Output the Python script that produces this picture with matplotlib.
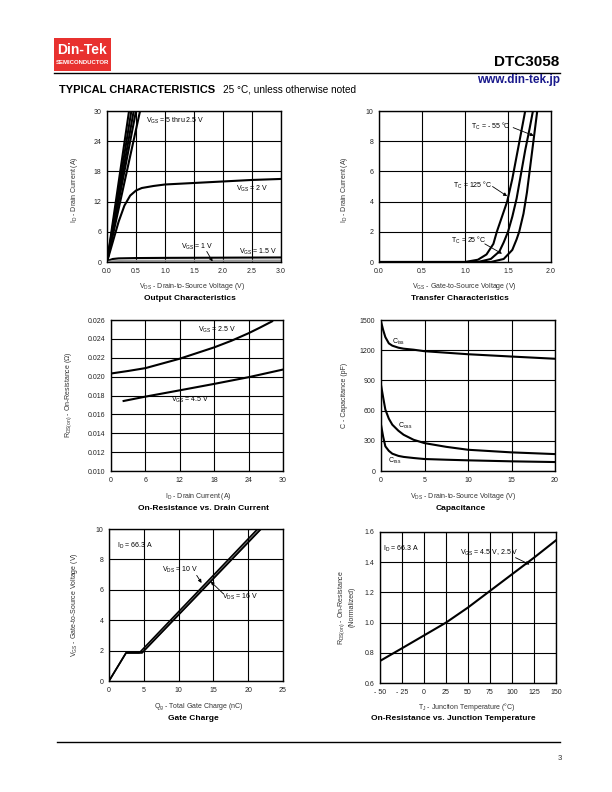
import numpy as np
import matplotlib.pyplot as plt
from matplotlib.patches import Rectangle

plt.rcParams['font.family'] = ['Liberation Sans', 'DejaVu Sans']
plt.rcParams['mathtext.fontset'] = 'custom'
plt.rcParams['mathtext.rm'] = 'Liberation Sans'

W, H = 612, 792

# ---------------- data ----------------
# output characteristics (ID vs VDS)
out_hi_vds = [[0, 0.38], [0, 0.42], [0, 0.46], [0, 0.50], [0, 0.57]]   # VGS 5 thru 2.5 V
out_hi_id = [0, 30]
out_2v_vds = [0, 0.05, 0.1, 0.2, 0.3, 0.4, 0.5, 0.6, 0.8, 1.0, 1.5, 2.0, 2.5, 3.0]
out_2v_id = [0, 2.0, 4.0, 8.0, 11.2, 13.2, 14.2, 14.7, 15.1, 15.4, 15.7, 16.0, 16.3, 16.5]
out_15v_vds = [0, 0.05, 0.1, 0.2, 0.5, 1.0, 2.0, 3.0]
out_15v_id = [0, 0.4, 0.6, 0.72, 0.78, 0.82, 0.86, 0.9]
out_1v_vds = [0, 0.1, 0.3, 1.0, 3.0]
out_1v_id = [0, 0.15, 0.22, 0.25, 0.28]

# transfer characteristics (ID vs VGS)
tr_125_vgs = [0, 1.0, 1.15, 1.25, 1.33, 1.37, 1.43, 1.49, 1.55, 1.60, 1.65, 1.70]
tr_125_id = [0, 0, 0.15, 0.5, 1.2, 2.0, 3.0, 4.0, 5.5, 7.0, 8.5, 10.0]
tr_25_vgs = [0, 1.15, 1.30, 1.40, 1.45, 1.50, 1.55, 1.60, 1.65, 1.70, 1.75, 1.79]
tr_25_id = [0, 0, 0.2, 0.7, 1.3, 2.0, 3.0, 4.2, 5.8, 7.4, 8.8, 10.0]
tr_m55_vgs = [0, 1.30, 1.45, 1.55, 1.60, 1.63, 1.68, 1.72, 1.76, 1.80, 1.84]
tr_m55_id = [0, 0, 0.2, 0.8, 1.5, 2.0, 3.2, 4.6, 6.4, 8.2, 10.0]

# on-resistance vs drain current
rds_id_25 = [0, 3, 6, 9, 12, 15, 18, 21, 24, 26, 28.1]
rds_25 = [0.02033, 0.0206, 0.0209, 0.0214, 0.0219, 0.0225, 0.0231, 0.0238, 0.0246, 0.0252, 0.02586]
rds_id_45 = [2.2, 6, 12, 18, 24, 30]
rds_45 = [0.01742, 0.01788, 0.01855, 0.01923, 0.01994, 0.02075]

# capacitance vs VDS
cap_vds = [0, 0.25, 0.5, 0.9, 1.3, 2.0, 2.6, 3.75, 5, 7.5, 10, 15, 20]
ciss = [1485, 1400, 1330, 1268, 1245, 1225, 1215, 1205, 1190, 1175, 1160, 1137, 1115]
coss = [855, 730, 610, 520, 460, 400, 360, 310, 277, 240, 211, 185, 168]
crss = [459, 340, 245, 200, 172, 150, 140, 129, 119, 112, 106, 96, 89]

# gate charge
qg_10 = [0, 2.45, 4.35, 21.35]
vgs_10 = [0, 1.85, 1.85, 10]
qg_16 = [0, 2.45, 4.75, 21.85]
vgs_16 = [0, 1.85, 1.85, 10]

# normalized on-resistance vs junction temperature
tj = [-50, -25, 0, 25, 50, 75, 100, 125, 150]
rds_norm = [0.746, 0.83, 0.915, 1.0, 1.10, 1.21, 1.32, 1.43, 1.545]

fig = plt.figure(figsize=(W / 100, H / 100), dpi=100)


def box(l, r, t, b):
    return [l / W, 1 - b / H, (r - l) / W, (b - t) / H]


def ftxt(x, y, s, **kw):
    kw.setdefault('ha', 'center')
    kw.setdefault('va', 'center')
    fig.text(x / W, 1 - y / H, s, **kw)


def style(ax, xlim, ylim, xt, yt, xfmt, yfmt):
    ax.set_xlim(xlim)
    ax.set_ylim(ylim)
    ax.set_xticks(xt)
    ax.set_yticks(yt)
    ax.set_xticklabels([xfmt(v) for v in xt])
    ax.set_yticklabels([yfmt(v) for v in yt])
    ax.grid(True, color='black', lw=0.8)
    ax.tick_params(length=0, labelsize=5, pad=4, colors='#222')
    for s in ax.spines.values():
        s.set_linewidth(1.0)


def arrow(ax, xy, xytext):
    ax.annotate('', xy=xy, xytext=xytext,
                arrowprops=dict(arrowstyle='-|>', lw=0.6, color='black', mutation_scale=5,
                                shrinkA=0, shrinkB=0))


LW = 1.5
lab = dict(fontsize=5, color='#333')
ttl = dict(fontsize=6, fontweight='bold')
ann = dict(fontsize=5, ha='center', va='center')

# ---------------- header ----------------
fig.add_artist(Rectangle((54 / W, 1 - 70.5 / H), 57 / W, 32.5 / H, transform=fig.transFigure,
                         facecolor='#e8312f', edgecolor='none'))
ftxt(82, 50, 'Din-Tek', fontsize=10, fontweight='bold', color='white')
ftxt(82, 63, 'SEMICONDUCTOR', fontsize=4.3, fontweight='bold', color='white')
fig.add_artist(plt.Line2D([54 / W, 560 / W], [1 - 72.5 / H, 1 - 72.5 / H], color='black', lw=1.0))
ftxt(559, 62, 'DTC3058', fontsize=11, fontweight='bold', ha='right')
ftxt(560, 80, 'www.din-tek.jp', fontsize=8.5, fontweight='bold', color='#1a1a8c', ha='right')
ftxt(59, 90, 'TYPICAL CHARACTERISTICS', fontsize=8, fontweight='bold', ha='left')
ftxt(223, 90, '25 °C, unless otherwise noted', fontsize=7.2, ha='left')

# ---------------- output characteristics ----------------
ax1 = fig.add_axes(box(107, 281, 111, 262))
for v in out_hi_vds:
    ax1.plot(v, out_hi_id, color='black', lw=LW)
ax1.plot(out_2v_vds, out_2v_id, color='black', lw=LW)
ax1.plot(out_15v_vds, out_15v_id, color='black', lw=LW)
ax1.plot(out_1v_vds, out_1v_id, color='#999', lw=LW)
style(ax1, (0, 3), (0, 30), np.arange(0, 3.01, 0.5), np.arange(0, 31, 6),
      lambda v: f'{v:.1f}', lambda v: f'{v:.0f}')
ax1.text(1.17, 28.1, r'$\mathregular{V_{GS}}$ = 5 thru 2.5 V', **ann)
ax1.text(2.5, 14.6, r'$\mathregular{V_{GS}}$ = 2 V', **ann)
ax1.text(1.55, 3.0, r'$\mathregular{V_{GS}}$ = 1 V', **ann)
ax1.text(2.6, 2.0, r'$\mathregular{V_{GS}}$ = 1.5 V', **ann)
arrow(ax1, (1.82, 0.1), (1.72, 2.1))
ftxt(192, 287, r'$\mathregular{V_{DS}}$ - Drain-to-Source Voltage (V)', **lab)
ftxt(190, 298, 'Output Characteristics', **ttl)
ftxt(75, 190, r'$\mathregular{I_D}$ - Drain Current (A)', rotation=90, **lab)

# ---------------- transfer characteristics ----------------
ax2 = fig.add_axes(box(379, 551, 111, 262))
ax2.plot(tr_125_vgs, tr_125_id, color='black', lw=LW)
ax2.plot(tr_25_vgs, tr_25_id, color='black', lw=LW)
ax2.plot(tr_m55_vgs, tr_m55_id, color='black', lw=LW)
style(ax2, (0, 2), (0, 10), np.arange(0, 2.01, 0.5), np.arange(0, 11, 2),
      lambda v: f'{v:.1f}', lambda v: f'{v:.0f}')
ax2.text(1.30, 9.0, r'$\mathregular{T_C}$ = - 55 °C', **ann)
arrow(ax2, (1.80, 8.36), (1.56, 8.9))
ax2.text(1.09, 5.1, r'$\mathregular{T_C}$ = 125 °C', **ann)
arrow(ax2, (1.49, 4.36), (1.32, 5.0))
ax2.text(1.04, 1.45, r'$\mathregular{T_C}$ = 25 °C', **ann)
arrow(ax2, (1.43, 0.55), (1.23, 1.2))
ftxt(464, 287, r'$\mathregular{V_{GS}}$ - Gate-to-Source Voltage (V)', **lab)
ftxt(460, 298, 'Transfer Characteristics', **ttl)
ftxt(345, 190, r'$\mathregular{I_D}$ - Drain Current (A)', rotation=90, **lab)

# ---------------- on-resistance vs drain current ----------------
ax3 = fig.add_axes(box(111, 283, 320, 471))
ax3.plot(rds_id_25, rds_25, color='black', lw=LW)
ax3.plot(rds_id_45, rds_45, color='black', lw=LW)
style(ax3, (0, 30), (0.010, 0.026), np.arange(0, 31, 6), np.arange(0.010, 0.02601, 0.002),
      lambda v: f'{v:.0f}', lambda v: f'{v:.3f}')
ax3.text(18.5, 0.02497, r'$\mathregular{V_{GS}}$ = 2.5 V', **ann)
ax3.text(13.8, 0.01752, r'$\mathregular{V_{GS}}$ = 4.5 V', **ann)
ftxt(198, 497, r'$\mathregular{I_D}$ - Drain Current (A)', **lab)
ftxt(204, 509, 'On-Resistance vs. Drain Current', **ttl)
ftxt(69, 395, r'$\mathregular{R_{DS(on)}}$ - On-Resistance (Ω)', rotation=90, **lab)

# ---------------- capacitance ----------------
ax4 = fig.add_axes(box(381, 555, 320, 471))
ax4.plot(cap_vds, ciss, color='black', lw=LW)
ax4.plot(cap_vds, coss, color='black', lw=LW)
ax4.plot(cap_vds, crss, color='black', lw=LW)
style(ax4, (0, 20), (0, 1500), np.arange(0, 21, 5), np.arange(0, 1501, 300),
      lambda v: f'{v:.0f}', lambda v: f'{v:.0f}')
ax4.text(2.0, 1285, r'$\mathregular{C_{iss}}$', **ann)
ax4.text(2.8, 450, r'$\mathregular{C_{oss}}$', **ann)
ax4.text(1.6, 96, r'$\mathregular{C_{rss}}$', **ann)
ftxt(463, 497, r'$\mathregular{V_{DS}}$ - Drain-to-Source Voltage (V)', **lab)
ftxt(461, 509, 'Capacitance', **ttl)
ftxt(345, 395, 'C - Capacitance (pF)', rotation=90, **lab)

# ---------------- gate charge ----------------
ax5 = fig.add_axes(box(109, 283, 529, 681))
ax5.fill_betweenx([1.85, 10], [qg_10[2], qg_10[3]], [qg_16[2], qg_16[3]], color='#777', lw=0)
ax5.plot(qg_10, vgs_10, color='black', lw=1.2)
ax5.plot(qg_16, vgs_16, color='black', lw=1.2)
style(ax5, (0, 25), (0, 10), np.arange(0, 26, 5), np.arange(0, 11, 2),
      lambda v: f'{v:.0f}', lambda v: f'{v:.0f}')
ax5.text(3.7, 8.87, r'$\mathregular{I_D}$ = 66.3 A', **ann)
ax5.text(10.2, 7.33, r'$\mathregular{V_{DS}}$ = 10 V', **ann)
arrow(ax5, (13.3, 6.45), (12.6, 6.95))
ax5.text(18.8, 5.56, r'$\mathregular{V_{DS}}$ = 16 V', **ann)
arrow(ax5, (14.6, 6.55), (16.4, 5.75))
ftxt(199, 707, r'$\mathregular{Q_g}$ - Total Gate Charge (nC)', **lab)
ftxt(193, 719, 'Gate Charge', **ttl)
ftxt(75, 605, r'$\mathregular{V_{GS}}$ - Gate-to-Source Voltage (V)', rotation=90, **lab)

# ---------------- on-resistance vs junction temperature ----------------
ax6 = fig.add_axes(box(380, 556, 532, 683))
ax6.plot(tj, rds_norm, color='black', lw=LW)
style(ax6, (-50, 150), (0.6, 1.6), np.arange(-50, 151, 25), np.arange(0.6, 1.61, 0.2),
      lambda v: f'{v:.0f}'.replace('-', '- '), lambda v: f'{v:.1f}')
ax6.text(-26, 1.49, r'$\mathregular{I_D}$ = 66.3 A', **ann)
ax6.text(74, 1.46, r'$\mathregular{V_{GS}}$ = 4.5 V, 2.5 V', **ann)
arrow(ax6, (120, 1.385), (104, 1.43))
ftxt(467, 707, r'$\mathregular{T_J}$ - Junction Temperature (°C)', **lab)
ftxt(453, 719, 'On-Resistance vs. Junction Temperature', **ttl)
ftxt(342, 607, r'$\mathregular{R_{DS(on)}}$ - On-Resistance', rotation=90, **lab)
ftxt(352, 607, '(Normalized)', rotation=90, **lab)

# ---------------- footer ----------------
fig.add_artist(plt.Line2D([57 / W, 560 / W], [1 - 742 / H, 1 - 742 / H], color='black', lw=1.0))
ftxt(560, 758, '3', fontsize=5.5, color='#333')

fig.savefig('out.png', dpi=100)
